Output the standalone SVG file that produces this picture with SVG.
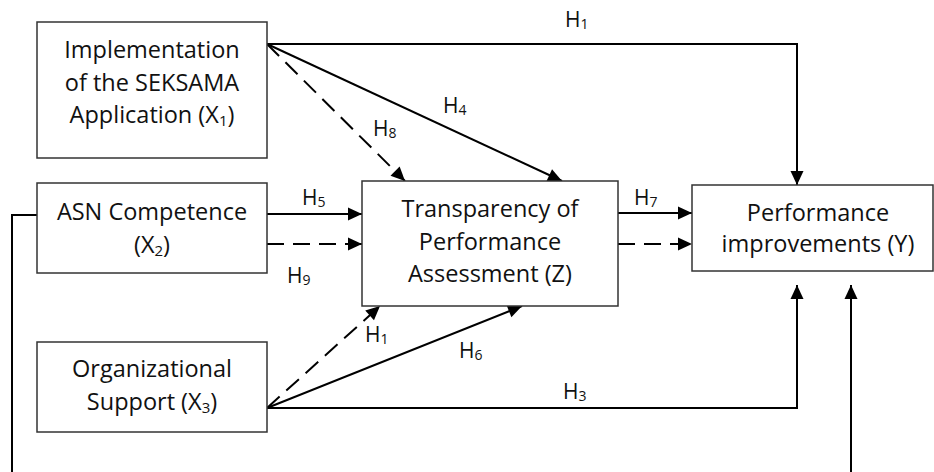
<svg xmlns="http://www.w3.org/2000/svg" width="934" height="472" viewBox="0 0 934 472">
<style>
.box{fill:#fff;stroke:#333;stroke-width:1.5}
.t{font-family:"Open Sans","Liberation Sans",sans-serif;font-size:23.5px;fill:#111;text-anchor:middle}
.lb{font-family:"Open Sans","Liberation Sans",sans-serif;font-size:21px;fill:#111}
.c{fill:none;stroke:#000;stroke-width:2}
.d{stroke-dasharray:17 9}
</style>
<defs>
<marker id="ah" markerUnits="userSpaceOnUse" markerWidth="16" markerHeight="16" viewBox="0 0 16 16" refX="15" refY="8" orient="auto">
<path d="M1,1.5 L15,8 L1,14.5 Z" fill="#000"/>
</marker>
</defs>
<rect width="934" height="472" fill="#fff"/>
<g id="connectors">
<path class="c" d="M267,44 H797 V185" marker-end="url(#ah)"/>
<path class="c d" d="M267,44 L405,181" marker-end="url(#ah)"/>
<path class="c" d="M267,44 L562,181" marker-end="url(#ah)"/>
<path class="c" d="M267,214 H362" marker-end="url(#ah)"/>
<path class="c d" d="M267,244 H362" marker-end="url(#ah)"/>
<path class="c" d="M618,213 H692" marker-end="url(#ah)"/>
<path class="c d" d="M618,244 H692" marker-end="url(#ah)"/>
<path class="c d" d="M267,408 L380,306" marker-end="url(#ah)"/>
<path class="c" d="M267,408 L522,306" marker-end="url(#ah)"/>
<path class="c" d="M267,408 H797 V285" marker-end="url(#ah)"/>
<path class="c" d="M37,215 H12 V490 H851 V285" marker-end="url(#ah)"/>
<text class="lb" x="565" y="27">H<tspan font-size="14" dy="2">1</tspan></text>
<text class="lb" x="443" y="113">H<tspan font-size="14" dy="2">4</tspan></text>
<text class="lb" x="373" y="136">H<tspan font-size="14" dy="2">8</tspan></text>
<text class="lb" x="302" y="205">H<tspan font-size="14" dy="2">5</tspan></text>
<text class="lb" x="287" y="283">H<tspan font-size="14" dy="2">9</tspan></text>
<text class="lb" x="634" y="205">H<tspan font-size="14" dy="2">7</tspan></text>
<text class="lb" x="365" y="342">H<tspan font-size="14" dy="2">1</tspan></text>
<text class="lb" x="459" y="358">H<tspan font-size="14" dy="2">6</tspan></text>
<text class="lb" x="563" y="399">H<tspan font-size="14" dy="2">3</tspan></text>
</g>
<g id="x1">
<rect class="box" x="37" y="22" width="230" height="136"/>
<text class="t" x="152" y="58">Implementation</text>
<text class="t" x="152" y="91">of the SEKSAMA</text>
<text class="t" x="152" y="123">Application (X<tspan font-size="15" dy="3">1</tspan><tspan dy="-3">)</tspan></text>
</g>
<g id="x2">
<rect class="box" x="37" y="183" width="230" height="90"/>
<text class="t" x="152" y="220">ASN Competence</text>
<text class="t" x="152" y="253">(X<tspan font-size="15" dy="3">2</tspan><tspan dy="-3">)</tspan></text>
</g>
<g id="x3">
<rect class="box" x="37" y="342" width="230" height="90"/>
<text class="t" x="152" y="377">Organizational</text>
<text class="t" x="152" y="410">Support (X<tspan font-size="15" dy="3">3</tspan><tspan dy="-3">)</tspan></text>
</g>
<g id="z">
<rect class="box" x="362" y="181" width="256" height="125"/>
<text class="t" x="490" y="217">Transparency of</text>
<text class="t" x="490" y="250">Performance</text>
<text class="t" x="490" y="282">Assessment (Z)</text>
</g>
<g id="y">
<rect class="box" x="692" y="185" width="241" height="86"/>
<text class="t" x="818" y="221">Performance</text>
<text class="t" x="818" y="252">improvements (Y)</text>
</g>
</svg>
